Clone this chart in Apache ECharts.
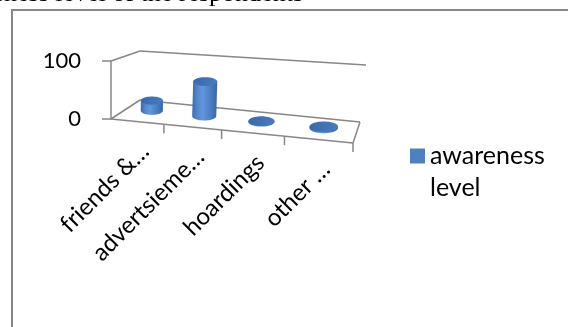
<!DOCTYPE html>
<html>
<head>
<meta charset="utf-8">
<script src="https://cdn.jsdelivr.net/npm/echarts@6/dist/echarts.min.js"></script>
<style>
  html, body { margin: 0; padding: 0; background: #ffffff; }
  #chart { width: 568px; height: 327px; }
</style>
</head>
<body>
<div id="chart"></div>
<script>
// ---- data ----
const categories = ['friends &…', 'advertsieme…', 'hoardings', 'other …'];
const awarenessLevel = [19, 62, 1, 2];
const valueTicks = [0, 100];
const seriesName = 'awareness level';
const titleText = 'Awareness level of the respondents';

// ---- pseudo-3D box, offsets in pixels relative to the plot rectangle ----
const view = {
  dropFront: 24,             // front floor edge falls from left to right
  dropTop: 17,               // front top edge (not drawn) falls from left to right
  topRightShift: 3,
  depthLeftFloor: [29, -19],
  depthRightFloor: [7, -21],
  depthLeftTop: [29, -10],
  depthRightTop: [10, -13],
  spread: 1.09,              // category slots widen toward the near side
  barDepth: 0.56,            // cylinders stand a little past halfway back on the floor
  barRadius: 0.44,           // share of half a slot
  ellipse: 0.37,             // vertical squash of the round faces
  tickLength: 9,
  labelOffset: [8, 26]       // end of each slanted category label, from the floor edge
};
const AXIS_GREY = '#878787';
const LABEL_FONT = 'Lato, "Open Sans", sans-serif';

function lerp(a, b, t) { return [a[0] + (b[0] - a[0]) * t, a[1] + (b[1] - a[1]) * t]; }
function add(a, b) { return [a[0] + b[0], a[1] + b[1]]; }

function makeProjector(cs) {
  const fl = [cs.x, cs.y + cs.height];
  const fr = [cs.x + cs.width, cs.y + cs.height + view.dropFront];
  const bl = add(fl, view.depthLeftFloor);
  const br = add(fr, view.depthRightFloor);
  const cfl = [cs.x, cs.y];
  const cfr = [cs.x + cs.width + view.topRightShift, cs.y + view.dropTop];
  const cbl = add(cfl, view.depthLeftTop);
  const cbr = add(cfr, view.depthRightTop);
  const n = categories.length;
  const warp = u => (Math.pow(view.spread, n * u) - 1) / (Math.pow(view.spread, n) - 1);
  const bil = (a, b, c, d, w, z) => lerp(lerp(a, b, w), lerp(c, d, w), z);
  // u: 0..1 across the categories, t: 0..1 up the value axis, z: 0 front .. 1 back
  return function (u, t, z) {
    const w = warp(u);
    return lerp(bil(fl, fr, bl, br, w, z), bil(cfl, cfr, cbl, cbr, w, z), t);
  };
}

function ellipsePoints(cx, cy, rx, ry, a0, a1, steps) {
  const pts = [];
  for (let k = 0; k <= steps; k++) {
    const a = a0 + (a1 - a0) * k / steps;
    pts.push([cx + rx * Math.cos(a), cy + ry * Math.sin(a)]);
  }
  return pts;
}

function lineEl(p, q) {
  return {
    type: 'line',
    shape: { x1: p[0], y1: p[1], x2: q[0], y2: q[1] },
    style: { stroke: AXIS_GREY, lineWidth: 1.5 },
    silent: true
  };
}

// walls, floor edges and category ticks
function renderFrame(params, api) {
  const cs = params.coordSys;
  const P = makeProjector(cs);
  const n = categories.length;
  const els = [];
  valueTicks.forEach(v => {
    const t = (cs.y + cs.height - api.coord([0, v])[1]) / cs.height;
    els.push(lineEl(P(0, t, 0), P(0, t, 1)));   // side wall
    els.push(lineEl(P(0, t, 1), P(1, t, 1)));   // back wall
  });
  els.push(lineEl(P(0, 0, 0), P(1, 0, 0)));     // front floor edge
  els.push(lineEl(P(1, 0, 0), P(1, 0, 1)));     // right floor edge
  for (let k = 1; k <= n; k++) {
    const p = P(k / n, 0, 0);
    els.push(lineEl(p, [p[0], p[1] + view.tickLength]));
  }
  return { type: 'group', children: els };
}

// one cylinder plus its rotated category label
function renderCylinder(params, api) {
  const cs = params.coordSys;
  const P = makeProjector(cs);
  const idx = api.value(0);
  const val = api.value(1);
  const pt = api.coord([idx, val]);
  const u = (pt[0] - cs.x) / cs.width;
  const t = (cs.y + cs.height - pt[1]) / cs.height;
  const halfSlot = api.size([1, 0])[0] / cs.width / 2;
  const r = halfSlot * view.barRadius;
  const base = P(u, 0, view.barDepth);
  const top = P(u, t, view.barDepth);
  const left = P(u - r, 0, view.barDepth);
  const right = P(u + r, 0, view.barDepth);
  const rx = (right[0] - left[0]) / 2;
  const ry = rx * view.ellipse;

  const body = ellipsePoints(base[0], base[1], rx, ry, 0, Math.PI, 24);
  body.push([top[0] - rx, top[1]], [top[0] + rx, top[1]]);

  const bodyFill = new echarts.graphic.LinearGradient(0, 0, 1, 0, [
    { offset: 0, color: '#3d6aa6' },
    { offset: 0.18, color: '#5284cb' },
    { offset: 0.42, color: '#6197de' },
    { offset: 0.72, color: '#4b7ec3' },
    { offset: 1, color: '#3a66a1' }
  ]);
  const capFill = new echarts.graphic.LinearGradient(0, 0, 1, 1, [
    { offset: 0, color: '#3a68a8' },
    { offset: 1, color: '#4a7cc0' }
  ]);

  const front = P(u, 0, 0);
  return {
    type: 'group',
    children: [
      { type: 'polygon', shape: { points: body }, style: { fill: bodyFill } },
      {
        type: 'polygon',
        shape: { points: ellipsePoints(top[0], top[1], rx, ry, 0, Math.PI * 2, 48) },
        style: { fill: capFill }
      },
      {
        type: 'text',
        x: front[0] + view.labelOffset[0],
        y: front[1] + view.labelOffset[1],
        rotation: Math.PI / 4,
        style: {
          text: categories[idx],
          fill: '#000000',
          font: '24px ' + LABEL_FONT,
          align: 'right',
          verticalAlign: 'middle'
        },
        silent: true
      }
    ]
  };
}

const chart = echarts.init(document.getElementById('chart'));
chart.setOption({
  animation: false,
  backgroundColor: '#ffffff',
  grid: { left: 111, top: 61, width: 242, height: 58 },
  xAxis: { type: 'category', data: categories, show: false },
  yAxis: {
    type: 'value',
    min: valueTicks[0],
    max: valueTicks[valueTicks.length - 1],
    interval: valueTicks[1] - valueTicks[0],
    axisLine: { show: true, lineStyle: { color: AXIS_GREY, width: 1.5 } },
    axisTick: { show: true, length: 9, lineStyle: { color: AXIS_GREY, width: 1.5 } },
    splitLine: { show: false },
    axisLabel: { color: '#000000', fontSize: 22, fontFamily: LABEL_FONT, margin: 30 }
  },
  legend: {
    data: [seriesName],
    left: 410,
    top: 108,
    padding: 0,
    icon: 'rect',
    itemWidth: 15,
    itemHeight: 15,
    itemGap: 0,
    // an empty first line keeps the icon level with the first word
    formatter: name => '\n' + name.replace(' ', '\n'),
    textStyle: { color: '#000000', fontSize: 25, fontFamily: LABEL_FONT, lineHeight: 32 }
  },
  graphic: [
    {
      type: 'rect',
      shape: { x: 12, y: 10, width: 700, height: 500 },
      style: { fill: 'none', stroke: '#878787', lineWidth: 2 },
      silent: true
    },
    {
      type: 'text',
      x: 303,
      y: -6,
      style: {
        text: titleText,
        font: '26px "Liberation Serif", "Times New Roman", serif',
        fill: '#000000',
        align: 'right',
        verticalAlign: 'middle'
      },
      silent: true
    }
  ],
  series: [
    {
      type: 'custom',
      name: 'frame',
      data: [[0, 0]],
      renderItem: renderFrame,
      z: 1,
      silent: true
    },
    {
      type: 'custom',
      name: seriesName,
      data: awarenessLevel.map((v, i) => [i, v]),
      encode: { x: 0, y: 1 },
      itemStyle: { color: '#4f81bd' },
      renderItem: renderCylinder,
      z: 2
    }
  ]
});
</script>
</body>
</html>
